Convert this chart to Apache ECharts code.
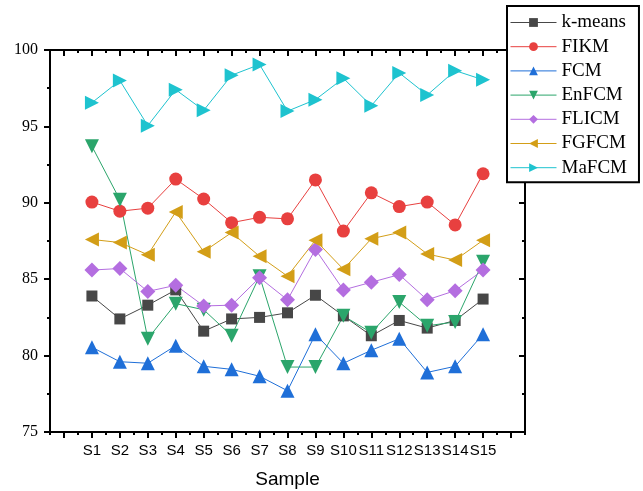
<!DOCTYPE html>
<html>
<head>
<meta charset="utf-8">
<script src="https://cdn.jsdelivr.net/npm/echarts@6/dist/echarts.min.js"></script>
<style>html,body{margin:0;padding:0;background:#fff;}#c{width:643px;height:491px;}</style>
</head>
<body>
<div id="c"></div>
<script>
const categories = ['S1','S2','S3','S4','S5','S6','S7','S8','S9','S10','S11','S12','S13','S14','S15'];
const kmeans = [83.9, 82.4, 83.3, 84.3, 81.6, 82.4, 82.5, 82.8, 83.95, 82.6, 81.3, 82.3, 81.8, 82.3, 83.7];
const fikm   = [90.05, 89.45, 89.65, 91.55, 90.25, 88.7, 89.05, 88.95, 91.5, 88.15, 90.65, 89.75, 90.05, 88.55, 91.9];
const fcm    = [80.55, 79.6, 79.5, 80.65, 79.3, 79.1, 78.65, 77.7, 81.4, 79.5, 80.35, 81.1, 78.9, 79.3, 81.4];
const enfcm  = [93.7, 90.2, 81.1, 83.4, 83.0, 81.3, 85.2, 79.25, 79.25, 82.6, 81.5, 83.5, 81.95, 82.2, 86.15];
const flicm  = [85.6, 85.7, 84.2, 84.6, 83.25, 83.3, 85.1, 83.65, 86.95, 84.3, 84.8, 85.3, 83.65, 84.25, 85.6];
const fgfcm  = [87.6, 87.4, 86.6, 89.4, 86.8, 88.05, 86.5, 85.2, 87.55, 85.65, 87.65, 88.05, 86.65, 86.25, 87.55];
const mafcm  = [96.55, 98.0, 95.05, 97.4, 96.05, 98.35, 99.05, 96.0, 96.75, 98.15, 96.35, 98.5, 97.05, 98.65, 98.05];
const yTicks = [75, 80, 85, 90, 95, 100];

const xCats = [''].concat(categories, ['']);
const pad = a => [null].concat(a, [null]);

const seriesDefs = [
  {name:'k-means', data:kmeans, color:'#474747', symbol:'rect', size:11, rot:0},
  {name:'FIKM', data:fikm, color:'#e8403f', symbol:'circle', size:13, rot:0},
  {name:'FCM', data:fcm, color:'#1f6fd8', symbol:'triangle', size:14, rot:0},
  {name:'EnFCM', data:enfcm, color:'#2ba56b', symbol:'triangle', size:14, rot:180},
  {name:'FLICM', data:flicm, color:'#b46ee0', symbol:'diamond', size:15, rot:0},
  {name:'FGFCM', data:fgfcm, color:'#d39e17', symbol:'triangle', size:14, rot:90},
  {name:'MaFCM', data:mafcm, color:'#1ec3cf', symbol:'triangle', size:14, rot:-90}
];

const axisLine = {show:true, onZero:false, lineStyle:{color:'#000', width:2}};
const chart = echarts.init(document.getElementById('c'));
chart.setOption({
  animation:false,
  backgroundColor:'#fff',
  grid:{left:50, right:118, top:50, bottom:59, containLabel:false, outerBoundsMode:'none'},
  legend:{
    orient:'vertical', left:507, top:6,
    padding:[7,12,5,3],
    itemWidth:46, itemHeight:11, itemGap:5.2,
    borderColor:'#000', borderWidth:2, backgroundColor:'#fff',
    lineStyle:{width:1},
    textStyle:{fontFamily:'Liberation Serif', fontSize:19, color:'#000'},
    data: seriesDefs.map(s=>s.name)
  },
  xAxis:[
    {type:'category', data:xCats, boundaryGap:true, position:'bottom', gridIndex:0,
     axisLine:axisLine,
     axisTick:{show:true, alignWithLabel:true, interval:0, length:6, lineStyle:{color:'#000', width:2}},
     axisLabel:{interval:0, margin:11, fontFamily:'Liberation Sans', fontSize:15, color:'#000'},
     name:'Sample', nameLocation:'middle', nameGap:38,
     nameTextStyle:{fontFamily:'Liberation Sans', fontSize:19, color:'#000'},
     splitLine:{show:false}},
    {type:'category', data:xCats, boundaryGap:true, position:'bottom', gridIndex:0,
     axisLine:axisLine,
     axisTick:{show:true, alignWithLabel:false, interval:0, length:3, lineStyle:{color:'#000', width:2}},
     axisLabel:{show:false}, splitLine:{show:false}},
    {type:'category', data:xCats, boundaryGap:true, position:'top', gridIndex:0,
     axisLine:axisLine,
     axisTick:{show:true, inside:true, alignWithLabel:true, interval:0, length:6, lineStyle:{color:'#000', width:2}},
     axisLabel:{show:false}, splitLine:{show:false}},
    {type:'category', data:xCats, boundaryGap:true, position:'top', gridIndex:0,
     axisLine:axisLine,
     axisTick:{show:true, inside:true, alignWithLabel:false, interval:0, length:3, lineStyle:{color:'#000', width:2}},
     axisLabel:{show:false}, splitLine:{show:false}}
  ],
  yAxis:[
    {type:'value', min:yTicks[0], max:yTicks[yTicks.length-1], interval:5, position:'left',
     axisLine:axisLine,
     axisTick:{show:true, length:6, lineStyle:{color:'#000', width:2}},
     minorTick:{show:true, splitNumber:2, length:3, lineStyle:{color:'#000', width:2}},
     axisLabel:{margin:12, fontFamily:'Liberation Serif', fontSize:16, color:'#000'},
     splitLine:{show:false}},
    {type:'value', min:yTicks[0], max:yTicks[yTicks.length-1], interval:5, position:'right',
     axisLine:axisLine,
     axisTick:{show:true, inside:true, length:6, lineStyle:{color:'#000', width:2}},
     minorTick:{show:true, splitNumber:2, length:3, lineStyle:{color:'#000', width:2}},
     axisLabel:{show:false}, splitLine:{show:false}}
  ],
  series: seriesDefs.map(s=>({
    name:s.name, type:'line', xAxisIndex:0, yAxisIndex:0,
    data:pad(s.data),
    symbol:s.symbol, symbolSize:s.size, symbolRotate:s.rot,
    showAllSymbol:true,
    itemStyle:{color:s.color},
    lineStyle:{color:s.color, width:1}
  }))
});
</script>
</body>
</html>
